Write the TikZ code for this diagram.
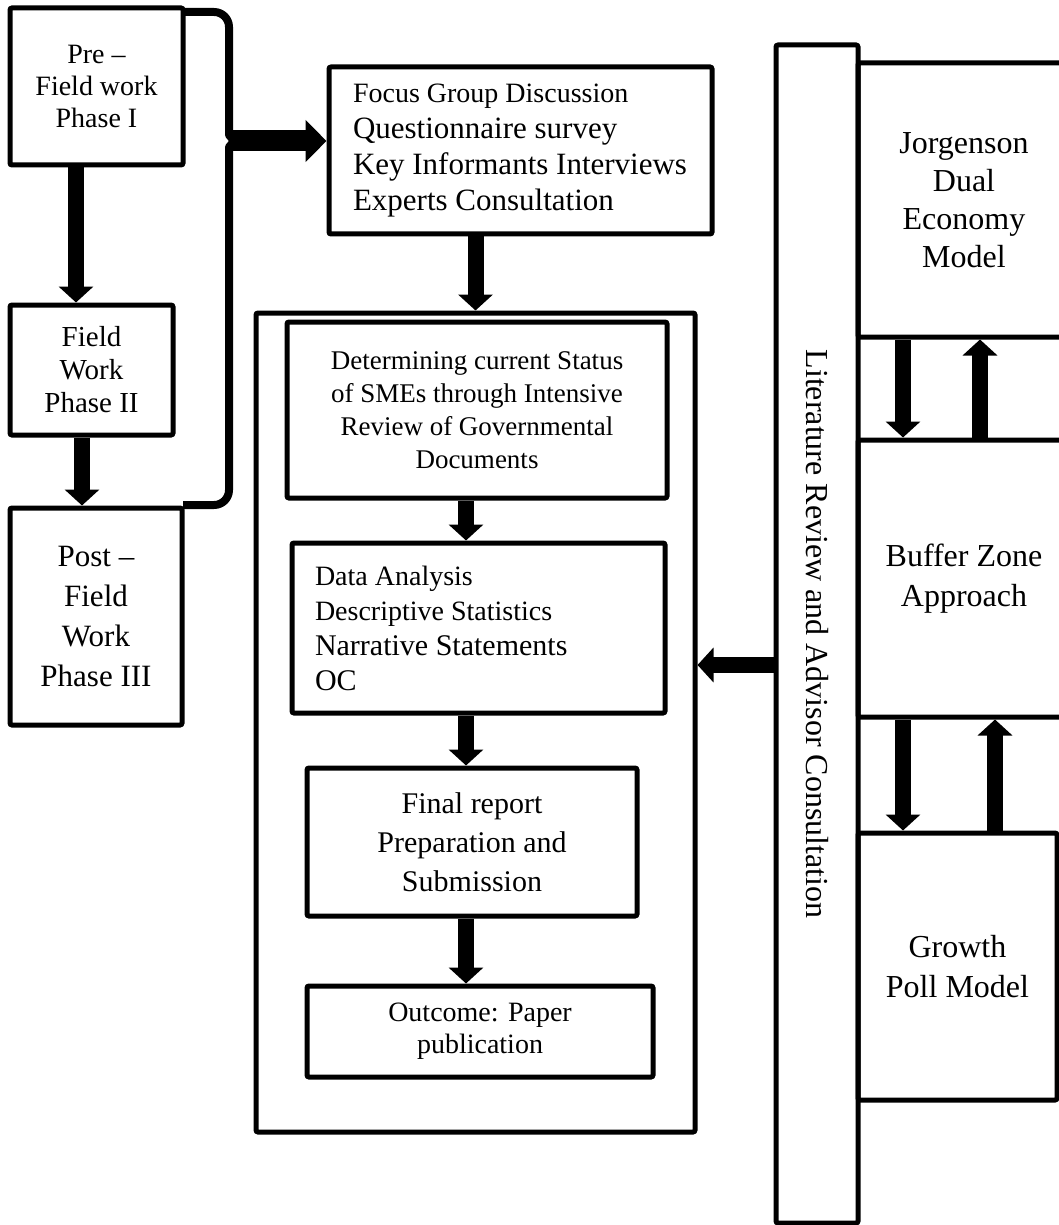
\documentclass[tikz,border=0pt]{standalone}
\usepackage{fontspec}
\setmainfont{Liberation Serif}
\usetikzlibrary{arrows.meta,calc}

\newcommand{\fsz}[2]{\fontsize{#1}{#2}\selectfont}
\tikzset{
  blk/.style={draw, line width=2.5pt, rounded corners=1pt, inner sep=0pt, align=center},
  arr/.style={line width=8pt, -{Triangle[width=17pt,length=8pt]}},
  bigarr/.style={line width=10.5pt, -{Triangle[width=20.5pt,length=10.5pt]}},
}

\begin{document}
\begin{tikzpicture}[x=0.5pt, y=-0.5pt]
    \useasboundingbox (0,0) rectangle (1059,1225);
    \clip (0,0) rectangle (1059,1225);

    % phases on the left
    \node[blk, minimum width=86.5pt, minimum height=78.5pt, font=\fsz{14}{16}] (pre) at (96.5,86.5) {Pre --\\Field work\\Phase I};
    \node[blk, minimum width=81.5pt, minimum height=65pt, font=\fsz{14.5}{16.5}] (field) at (91.5,370) {Field\\Work\\Phase II};
    \node[blk, minimum width=86pt, minimum height=108.5pt, font=\fsz{15.5}{20}] (post) at (96,616.5) {Post --\\Field\\Work\\Phase III};

    \coordinate (c1) at (76,0);
    \coordinate (c2) at (82,0);
    \draw[arr] (pre.south -| c1) -- (field.north -| c1);
    \draw[arr] (field.south -| c2) -- (post.north -| c2);

    % brace round the three phases
    \draw[line width=4pt, line join=round] (183,12) -- (214,12) to[out=0,in=90] (229,27) -- (229,135)
        -- (234,141) -- (229,147) -- (229,490) to[out=-90,in=0] (214,505) -- (183,505);
    \coordinate (tip) at (229,141);

    % methods
    \node[blk, align=flush left, text width=167.5pt, inner xsep=12pt, minimum height=83.5pt, font=\fsz{15.5}{18}] (focus) at (520.5,150.5)
        {{\fsz{14}{18}Focus Group Discussion}\\Questionnaire survey\\\mbox{Key Informants Interviews}\\Experts Consultation};
    \draw[bigarr] (tip) -- (tip -| focus.west);

    % main frame
    \node[blk, minimum width=219.5pt, minimum height=409.5pt] (frame) at (475.5,722.5) {};
    \draw[arr] (focus.south -| frame.north) -- (frame.north);

    \node[blk, minimum width=190pt, minimum height=88pt, font=\fsz{13.5}{16.5}] (det) at (477,410)
        {Determining current Status\\of SMEs through Intensive\\Review of Governmental\\Documents};
    \node[blk, align=flush left, text width=163.5pt, inner xsep=11.5pt, minimum height=85pt, font=\fsz{15}{17.5}] (data) at (478.5,628)
        {{\fsz{14}{17.5}Data Analysis}\\{\fsz{14}{17.5}Descriptive Statistics}\\Narrative Statements\\OC};
    \node[blk, minimum width=165pt, minimum height=74pt, font=\fsz{15}{19.5}] (fin) at (472,842)
        {Final report\\Preparation and\\Submission};
    \node[blk, minimum width=173pt, minimum height=45.5pt, font=\fsz{14}{16}] (pub) at (480,1031.5)
        {Outcome: Paper\\publication};

    \coordinate (mid) at (466,0);
    \draw[arr] (det.south -| mid) -- (data.north -| mid);
    \draw[arr] (data.south -| mid) -- (fin.north -| mid);
    \draw[arr] (fin.south -| mid) -- (pub.north -| mid);

    % literature column
    \node[blk, minimum width=41pt, minimum height=589pt] (lit) at (817,634) {};
    \node[rotate=-90, font=\fsz{16}{19}] (littext) at (lit) {Literature Review and Advisor Consultation};
    \coordinate (lvl) at (0,665);
    \draw[arr] (lit.west |- lvl) -- (frame.east |- lvl);

    % models on the right
    \node[blk, minimum width=106pt, minimum height=137pt, font=\fsz{16}{19}] (jor) at (964,200) {Jorgenson\\Dual\\Economy\\Model};
    \node[blk, minimum width=106pt, minimum height=138.5pt, font=\fsz{16}{20}] (buf) at (964,578.5) {Buffer Zone\\Approach};
    \node[blk, minimum width=99.5pt, minimum height=133.5pt, font=\fsz{16}{20}] (gro) at (957.5,966.5) {Growth\\Poll Model};

    \coordinate (dn) at (903,0);
    \coordinate (upa) at (980,0);
    \coordinate (upb) at (995,0);
    \draw[arr] (jor.south -| dn) -- (buf.north -| dn);
    \draw[arr] (buf.north -| upa) -- (jor.south -| upa);
    \draw[arr] (buf.south -| dn) -- (gro.north -| dn);
    \draw[arr] (gro.north -| upb) -- (buf.south -| upb);
\end{tikzpicture}
\end{document}
